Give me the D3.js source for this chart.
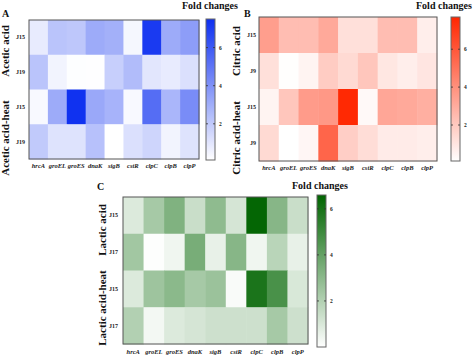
<!DOCTYPE html>
<html><head><meta charset="utf-8">
<script src="https://cdn.jsdelivr.net/npm/d3@7"></script>
<style>
html,body{margin:0;padding:0;background:#fff;}
svg{display:block;font-family:"Liberation Serif","Times New Roman",serif;}
</style></head>
<body><svg id="chart" width="474" height="358"></svg>
<script>
// ---------- data ----------
const genes = ["hrcA","groEL","groES","dnaK","sigB","cstR","clpC","clpB","clpP"];
const cbTicks = [2,4,6];

const rowsA = ["J15","J19","J15","J19"];
const groupsA = ["Acetic acid","Acetic acid-heat"];
const valuesA = [
  [0.8,2.2,2.1,3.1,2.9,0.4,7.1,3.1,3.6],
  [2.2,0.5,0.15,0.12,1.8,2.5,1.0,0.8,1.2],
  [0.3,3.1,7.4,3.2,2.8,0.3,5.3,2.7,4.2],
  [2.0,1.1,1.1,2.3,0.1,1.2,1.6,0.5,1.1]
];
const domainA = [0.1,7.5];

const rowsB = ["J15","J9","J15","J9"];
const groupsB = ["Citric acid","Citric acid-heat"];
const valuesB = [
  [3.5,2.4,2.4,3.1,1.2,1.2,2.4,2.4,0.7],
  [1.2,0.15,0.5,1.9,1.4,2.1,0.95,0.7,1.0],
  [0.5,2.1,3.6,3.7,7.6,0.3,3.2,3.1,2.9],
  [1.4,0.1,0.4,5.5,1.8,1.3,0.8,0.8,0.7]
];
const domainB = [0.1,7.7];

const rowsC = ["J15","J17","J15","J17"];
const groupsC = ["Lactic acid","Lactic acid-heat"];
const valuesC = [
  [0.9,2.3,3.3,1.4,2.9,1.1,6.5,3.1,1.4],
  [2.4,0.05,0.4,3.5,0.6,3.1,0.4,1.8,0.6],
  [0.9,2.5,3.0,2.3,2.6,0.15,5.9,4.7,1.0],
  [2.0,0.3,0.9,1.1,1.3,1.3,1.3,2.3,1.3]
];
const domainC = [0,6.6];

// ---------- drawing ----------
const svg = d3.select("#chart");
const defs = svg.append("defs");

function panel(cfg){
  const g = svg.append("g");
  const x = d3.scaleBand().domain(d3.range(genes.length)).range([cfg.x0,cfg.x1]);
  const y = d3.scaleBand().domain(d3.range(cfg.rows.length)).range([cfg.y0,cfg.y1]);
  const color = d3.scaleLinear().domain(cfg.domain).range(["#ffffff",cfg.maxColor]).interpolate(d3.interpolateRgb).clamp(true);

  const cells = [];
  cfg.values.forEach((row,i)=>row.forEach((v,j)=>cells.push({i,j,v})));
  g.selectAll("rect.cell").data(cells).join("rect")
    .attr("x",d=>x(d.j)).attr("y",d=>y(d.i))
    .attr("width",x.bandwidth()+0.5).attr("height",y.bandwidth()+0.5)
    .attr("fill",d=>color(d.v));
  g.append("rect").attr("x",cfg.x0).attr("y",cfg.y0)
    .attr("width",cfg.x1-cfg.x0).attr("height",cfg.y1-cfg.y0)
    .attr("fill","none").attr("stroke","#555").attr("stroke-width",1);

  // column labels
  g.selectAll("text.gene").data(genes).join("text")
    .attr("x",(d,j)=>x(j)+x.bandwidth()/2).attr("y",cfg.geneY)
    .attr("text-anchor","middle").attr("font-size",6.5)
    .attr("font-style","italic").attr("font-weight","bold").attr("fill","#222")
    .text(d=>d);
  // row labels
  g.selectAll("text.row").data(cfg.rows).join("text")
    .attr("x",cfg.rowX).attr("y",(d,i)=>y(i)+y.bandwidth()/2+2)
    .attr("text-anchor","end").attr("font-size",6).attr("font-weight","bold").attr("fill","#222")
    .text(d=>d);
  // group labels
  cfg.groups.forEach((name,k)=>{
    g.append("text")
      .attr("transform",`translate(${cfg.groupX},${cfg.groupY[k]}) rotate(-90)`)
      .attr("text-anchor","middle").attr("font-size",11).attr("font-weight","bold").attr("fill","#111")
      .text(name);
  });
  // panel letter
  g.append("text").attr("x",cfg.letterX).attr("y",cfg.letterY)
    .attr("font-size",10).attr("font-weight","bold").attr("fill","#111").text(cfg.letter);
  // colorbar
  const gid = "grad"+cfg.letter;
  const grad = defs.append("linearGradient").attr("id",gid)
    .attr("x1",0).attr("y1",1).attr("x2",0).attr("y2",0);
  d3.range(0,1.0001,0.1).forEach(t=>{
    grad.append("stop").attr("offset",t)
      .attr("stop-color",color(cfg.domain[0]+t*(cfg.domain[1]-cfg.domain[0])));
  });
  const cy = d3.scaleLinear().domain(cfg.domain).range([cfg.cbY1,cfg.cbY0]);
  g.append("rect").attr("x",cfg.cbX0).attr("y",cfg.cbY0)
    .attr("width",cfg.cbX1-cfg.cbX0).attr("height",cfg.cbY1-cfg.cbY0)
    .attr("fill",`url(#${gid})`).attr("stroke","#666").attr("stroke-width",1);
  const tk = g.selectAll("g.tk").data(cbTicks).join("g");
  tk.append("line").attr("x1",cfg.cbX0).attr("x2",cfg.cbX0+2)
    .attr("y1",d=>cy(d)).attr("y2",d=>cy(d)).attr("stroke","#333").attr("stroke-width",0.8);
  tk.append("line").attr("x1",cfg.cbX1-2).attr("x2",cfg.cbX1)
    .attr("y1",d=>cy(d)).attr("y2",d=>cy(d)).attr("stroke","#333").attr("stroke-width",0.8);
  tk.append("text").attr("x",cfg.cbX1+4).attr("y",d=>cy(d)+2)
    .attr("font-size",5.5).attr("font-weight","bold").attr("fill","#222").text(d=>d);
  g.append("text").attr("x",cfg.titleX).attr("y",cfg.titleY)
    .attr("font-size",10).attr("font-weight","bold").attr("fill","#111").text("Fold changes");
}

panel({letter:"A",rows:rowsA,groups:groupsA,values:valuesA,domain:domainA,maxColor:"#0d2ff0",
  x0:29,x1:199,y0:20,y1:159,geneY:168,rowX:25,groupX:9,groupY:[51,138],
  letterX:2,letterY:17,cbX0:206,cbX1:215,cbY0:19,cbY1:160,titleX:182,titleY:9});
panel({letter:"B",rows:rowsB,groups:groupsB,values:valuesB,domain:domainB,maxColor:"#ff2600",
  x0:259,x1:437,y0:17,y1:161,geneY:170,rowX:256,groupX:240,groupY:[51,138],
  letterX:244,letterY:17,cbX0:451,cbX1:460,cbY0:17,cbY1:161,titleX:416,titleY:9});
panel({letter:"C",rows:rowsC,groups:groupsC,values:valuesC,domain:domainC,maxColor:"#006400",
  x0:123,x1:308,y0:197,y1:344,geneY:354,rowX:118,groupX:106,groupY:[230,308],
  letterX:97,letterY:190,cbX0:317,cbX1:326,cbY0:195,cbY1:347,titleX:292,titleY:189});
</script></body></html>
